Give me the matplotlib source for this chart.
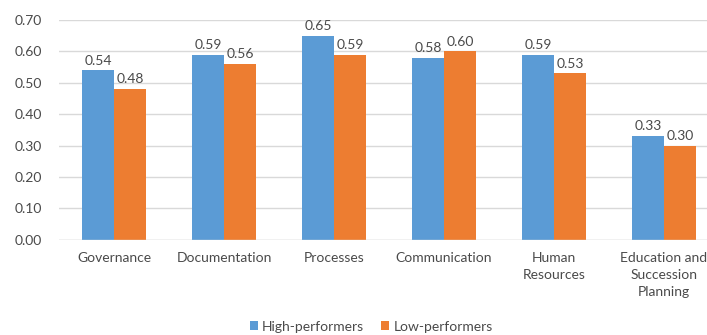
import matplotlib
matplotlib.use("Agg")
import matplotlib.pyplot as plt
import numpy as np

categories = ["Governance", "Documentation", "Processes", "Communication",
              "Human\nResources", "Education and\nSuccession\nPlanning"]
high = [0.54, 0.59, 0.65, 0.58, 0.59, 0.33]
low = [0.48, 0.56, 0.59, 0.60, 0.53, 0.30]
series_names = ["High-performers", "Low-performers"]
yticks = [0.0, 0.1, 0.2, 0.3, 0.4, 0.5, 0.6, 0.7]

plt.rcParams['font.family'] = ['Lato', 'DejaVu Sans']
txt = "#4a4a4a"

fig = plt.figure(figsize=(7.07, 3.35), dpi=100)
ax = fig.add_axes([0.0835, 0.284, 0.9335, 0.656])

x = np.arange(len(categories))
w = 0.29
b1 = ax.bar(x - w/2, high, w, color="#5B9BD5", label=series_names[0], zorder=3)
b2 = ax.bar(x + w/2, low, w, color="#ED7D31", label=series_names[1], zorder=3)

for bars, vals in ((b1, high), (b2, low)):
    for r, v in zip(bars, vals):
        ax.text(r.get_x() + r.get_width()/2, v + 0.012, f"{v:.2f}",
                ha="center", va="bottom", fontsize=10, color=txt)

ax.set_ylim(0, 0.70)
ax.set_xlim(-0.5, len(categories) - 0.5)
ax.set_yticks(yticks)
ax.set_yticklabels([f"{t:.2f}" for t in yticks], fontsize=10, color=txt)
ax.set_xticks(x)
ax.set_xticklabels(categories, fontsize=10, color=txt, linespacing=1.5)
ax.tick_params(axis='both', length=0)
ax.tick_params(axis='x', pad=9)
ax.tick_params(axis='y', pad=12)
ax.grid(axis='y', color="#D9D9D9", linewidth=1, zorder=0)
for s in ax.spines.values():
    s.set_visible(False)
ax.axhline(0, color="#D9D9D9", linewidth=1, zorder=4)

fig.legend(handles=[b1, b2], labels=series_names, loc="lower center",
           bbox_to_anchor=(0.525, -0.03), ncol=2, frameon=False, fontsize=10,
           handlelength=0.6, handleheight=0.6, handletextpad=0.3,
           columnspacing=1.2, labelcolor=txt)

fig.savefig("out.png", dpi=100)
